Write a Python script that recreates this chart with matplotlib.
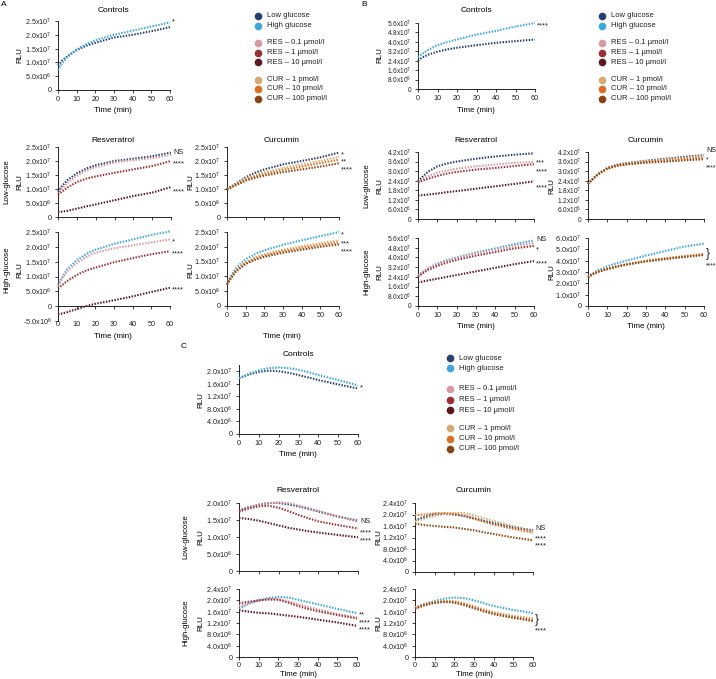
import matplotlib
matplotlib.use('Agg')
import matplotlib.pyplot as plt
from matplotlib.ticker import FixedLocator, FuncFormatter
import math

plt.rcParams['font.family'] = ['Liberation Sans', 'DejaVu Sans']
plt.rcParams['mathtext.fontset'] = 'custom'
plt.rcParams['mathtext.rm'] = 'Liberation Sans'
plt.rcParams['mathtext.it'] = 'Liberation Sans'

# ---------------- data (RLU in units of 1e7) ----------------
t_grow = [0, 2, 5, 10, 15, 20, 30, 40, 50, 60]
t_hump = [0, 5, 10, 15, 20, 25, 30, 35, 40, 50, 60]

# Panel A
A_ctrl_low = [0.88, 1.05, 1.22, 1.45, 1.60, 1.71, 1.90, 2.00, 2.13, 2.28]
A_ctrl_high = [0.72, 0.95, 1.20, 1.47, 1.66, 1.80, 2.00, 2.15, 2.30, 2.45]

A_res_low_ctrl = [0.90, 1.10, 1.32, 1.56, 1.73, 1.85, 2.00, 2.08, 2.17, 2.30]
A_res_low_01 = [0.82, 1.00, 1.22, 1.47, 1.65, 1.78, 1.95, 2.03, 2.10, 2.22]
A_res_low_1 = [0.80, 0.90, 1.05, 1.25, 1.37, 1.45, 1.58, 1.70, 1.82, 2.00]
A_res_low_10 = [0.17, 0.19, 0.22, 0.30, 0.38, 0.45, 0.60, 0.75, 0.87, 1.07]

A_res_high_ctrl = [0.70, 0.95, 1.25, 1.55, 1.75, 1.90, 2.10, 2.25, 2.40, 2.52]
A_res_high_01 = [0.68, 0.90, 1.18, 1.45, 1.65, 1.80, 1.95, 2.05, 2.15, 2.25]
A_res_high_1 = [0.60, 0.70, 0.85, 1.05, 1.20, 1.30, 1.48, 1.62, 1.75, 1.85]
A_res_high_10 = [-0.28, -0.25, -0.20, -0.10, 0.00, 0.08, 0.20, 0.33, 0.48, 0.62]

A_cur_low_ctrl = [1.00, 1.08, 1.20, 1.42, 1.58, 1.70, 1.88, 2.00, 2.13, 2.30]
A_cur_low_1 = [1.00, 1.07, 1.18, 1.38, 1.50, 1.60, 1.75, 1.88, 2.00, 2.15]
A_cur_low_10 = [1.00, 1.06, 1.16, 1.33, 1.45, 1.53, 1.68, 1.80, 1.92, 2.05]
A_cur_low_100 = [1.00, 1.05, 1.14, 1.30, 1.40, 1.48, 1.60, 1.70, 1.80, 1.92]

A_cur_high_ctrl = [0.75, 1.00, 1.30, 1.58, 1.75, 1.88, 2.07, 2.22, 2.36, 2.50]
A_cur_high_1 = [0.72, 0.95, 1.22, 1.48, 1.64, 1.75, 1.90, 2.02, 2.12, 2.22]
A_cur_high_10 = [0.72, 0.94, 1.20, 1.45, 1.60, 1.70, 1.85, 1.96, 2.06, 2.15]
A_cur_high_100 = [0.72, 0.93, 1.18, 1.42, 1.56, 1.66, 1.80, 1.90, 2.00, 2.08]

# Panel B
B_ctrl_low = [2.40, 2.65, 2.90, 3.17, 3.36, 3.50, 3.72, 3.92, 4.06, 4.20]
B_ctrl_high = [2.69, 2.95, 3.30, 3.72, 3.98, 4.20, 4.62, 4.93, 5.30, 5.60]

B_res_low_ctrl = [2.36, 2.60, 2.95, 3.30, 3.48, 3.60, 3.78, 3.92, 4.03, 4.12]
B_res_low_01 = [2.30, 2.45, 2.68, 2.90, 3.05, 3.15, 3.30, 3.42, 3.52, 3.58]
B_res_low_1 = [2.30, 2.38, 2.52, 2.70, 2.85, 2.95, 3.10, 3.20, 3.32, 3.44]
B_res_low_10 = [1.46, 1.49, 1.53, 1.60, 1.68, 1.75, 1.90, 2.05, 2.20, 2.36]

B_cur_low_ctrl = [2.20, 2.45, 2.80, 3.20, 3.40, 3.50, 3.65, 3.78, 3.90, 4.00]
B_cur_low_1 = [2.20, 2.45, 2.80, 3.20, 3.38, 3.48, 3.62, 3.74, 3.85, 3.95]
B_cur_low_10 = [2.20, 2.45, 2.80, 3.18, 3.36, 3.45, 3.58, 3.68, 3.77, 3.85]
B_cur_low_100 = [2.20, 2.45, 2.78, 3.15, 3.33, 3.42, 3.53, 3.60, 3.68, 3.75]

B_res_high_ctrl = [2.50, 2.75, 3.10, 3.50, 3.78, 4.00, 4.40, 4.75, 5.10, 5.40]
B_res_high_01 = [2.50, 2.75, 3.08, 3.45, 3.72, 3.95, 4.35, 4.65, 4.95, 5.20]
B_res_high_1 = [2.40, 2.65, 2.95, 3.30, 3.58, 3.80, 4.15, 4.45, 4.75, 4.95]
B_res_high_10 = [1.95, 2.00, 2.10, 2.25, 2.40, 2.55, 2.85, 3.15, 3.45, 3.70]

B_cur_high_ctrl = [2.60, 2.85, 3.15, 3.50, 3.78, 4.00, 4.45, 4.85, 5.25, 5.50]
B_cur_high_1 = [2.55, 2.80, 3.05, 3.30, 3.52, 3.70, 4.00, 4.22, 4.42, 4.60]
B_cur_high_10 = [2.55, 2.78, 3.03, 3.28, 3.50, 3.68, 3.97, 4.18, 4.38, 4.55]
B_cur_high_100 = [2.50, 2.75, 3.00, 3.25, 3.47, 3.65, 3.93, 4.14, 4.33, 4.50]

# Panel C
C_ctrl_low = [1.78, 1.90, 1.98, 2.02, 2.00, 1.95, 1.88, 1.80, 1.72, 1.58, 1.45]
C_ctrl_high = [1.78, 1.92, 2.03, 2.10, 2.12, 2.10, 2.05, 1.97, 1.88, 1.72, 1.55]

C_res_low_ctrl = [1.78, 1.88, 1.95, 2.00, 2.00, 1.96, 1.90, 1.83, 1.75, 1.60, 1.48]
C_res_low_01 = [1.75, 1.86, 1.95, 2.00, 2.02, 2.00, 1.93, 1.85, 1.77, 1.60, 1.45]
C_res_low_1 = [1.75, 1.84, 1.90, 1.92, 1.86, 1.76, 1.65, 1.55, 1.46, 1.35, 1.25]
C_res_low_10 = [1.56, 1.53, 1.48, 1.41, 1.34, 1.27, 1.22, 1.17, 1.13, 1.06, 0.99]

C_res_high_ctrl = [1.70, 1.88, 2.00, 2.08, 2.12, 2.10, 2.02, 1.94, 1.86, 1.70, 1.55]
C_res_high_01 = [1.80, 1.90, 1.98, 2.04, 2.05, 1.97, 1.87, 1.77, 1.68, 1.52, 1.40]
C_res_high_1 = [1.90, 1.95, 2.00, 2.03, 2.02, 1.92, 1.80, 1.70, 1.62, 1.48, 1.36]
C_res_high_10 = [1.65, 1.60, 1.56, 1.54, 1.50, 1.46, 1.42, 1.37, 1.32, 1.22, 1.10]

C_cur_low_ctrl = [1.80, 1.92, 2.00, 2.02, 2.00, 1.95, 1.87, 1.78, 1.70, 1.55, 1.45]
C_cur_low_1 = [1.75, 1.86, 1.95, 2.02, 2.05, 2.05, 1.97, 1.87, 1.77, 1.60, 1.42]
C_cur_low_10 = [1.98, 2.00, 2.04, 2.05, 2.02, 1.95, 1.85, 1.75, 1.65, 1.50, 1.37]
C_cur_low_100 = [1.68, 1.63, 1.60, 1.57, 1.55, 1.50, 1.45, 1.38, 1.32, 1.20, 1.10]

C_cur_high_ctrl = [1.75, 1.88, 1.98, 2.06, 2.10, 2.08, 2.00, 1.90, 1.80, 1.66, 1.55]
C_cur_high_1 = [1.75, 1.87, 1.95, 1.98, 1.97, 1.90, 1.80, 1.68, 1.58, 1.45, 1.36]
C_cur_high_10 = [1.72, 1.85, 1.93, 1.96, 1.94, 1.86, 1.75, 1.64, 1.55, 1.41, 1.31]
C_cur_high_100 = [1.70, 1.83, 1.91, 1.94, 1.92, 1.83, 1.72, 1.61, 1.51, 1.38, 1.27]

legend_labels = ['Low glucose', 'High glucose', 'RES \u2013 0.1 \u00b5mol/l', 'RES \u2013 1 \u00b5mol/l',
                 'RES \u2013 10 \u00b5mol/l', 'CUR \u2013 1 pmol/l', 'CUR \u2013 10 pmol/l', 'CUR \u2013 100 pmol/l']

# ---------------- style ----------------
C_LOW = '#263f6e'
C_HIGH = '#3aa7dc'
C_RES01 = '#d49a9f'
C_RES1 = '#9a3035'
C_RES10 = '#5a1820'
C_CUR1 = '#d4aa72'
C_CUR10 = '#dd6d20'
C_CUR100 = '#8b4513'
legend_colors = [C_LOW, C_HIGH, C_RES01, C_RES1, C_RES10, C_CUR1, C_CUR10, C_CUR100]

W, H = 716, 679
fig = plt.figure(figsize=(W / 100, H / 100), dpi=100)
FS = 5.2


def fmt(v, pos=None):
    if abs(v) < 1e-3:
        return '0'
    val = v * 1e7
    e = int(math.floor(math.log10(abs(val)) + 1e-9))
    m = val / 10 ** e
    return '%.1fx10$^{%d}$' % (m, e)


def add_ax(x0, y0, x1, y1, ylim, yticks, xlabels=True, spine0=False, xpad=2, yfs=FS):
    ax = fig.add_axes([x0 / W, 1 - y1 / H, (x1 - x0) / W, (y1 - y0) / H])
    ax.set_xlim(0, 60)
    ax.set_ylim(*ylim)
    for s in ['top', 'right']:
        ax.spines[s].set_visible(False)
    for s in ['left', 'bottom']:
        ax.spines[s].set_linewidth(0.6)
    ax.xaxis.set_major_locator(FixedLocator([0, 10, 20, 30, 40, 50, 60]))
    ax.yaxis.set_major_locator(FixedLocator(yticks))
    ax.yaxis.set_major_formatter(FuncFormatter(fmt))
    ax.tick_params(length=2.5, width=0.6, labelsize=FS, pad=2, color='#222222', labelcolor='#222222')
    ax.tick_params(axis='y', labelsize=yfs)
    ax.tick_params(axis='x', pad=xpad)
    if not xlabels:
        ax.tick_params(axis='x', labelbottom=False)
    if spine0:
        ax.spines['bottom'].set_position(('data', 0))
        ax.tick_params(axis='x', pad=8.5)
    ax.patch.set_alpha(0)
    return ax


def curves(ax, t, series, colors):
    for ys, c in zip(series, colors):
        ax.plot(t, ys, color=c, lw=1.5, linestyle=(0, (0.7, 0.7)), clip_on=False, zorder=3)


def notes(ax, items, fs=5.3):
    for s, y in items:
        dy = -1.8 if s.startswith('*') else 0
        ax.annotate(s, xy=(60, y), xytext=(1.5, dy), textcoords='offset points',
                    fontsize=fs, ha='left', va='center', color='#222222', annotation_clip=False)


def ylab(x, y, s='RLU'):
    fig.text(x / W, 1 - y / H, s, rotation=90, ha='center', va='center', fontsize=5.8)


def txt(x, y, s, fs=6, **kw):
    fig.text(x / W, 1 - y / H, s, ha='center', va='center', fontsize=fs, **kw)


RES_COLS = [C_RES01, C_RES1, C_RES10]
CUR_COLS = [C_CUR1, C_CUR10, C_CUR100]
tA = [0, 0.5, 1.0, 1.5, 2.0, 2.5]
YS = 4.8  # smaller y labels for densely ticked panels

# ================= Panel A =================
txt(4, 5, 'A', fs=6)
ax = add_ax(58, 21, 170, 90, (0, 2.5), tA)
curves(ax, t_grow, [A_ctrl_low, A_ctrl_high], [C_LOW, C_HIGH])
notes(ax, [('*', 2.55)])
txt(113, 10, 'Controls')
ylab(20, 55)
txt(113, 110, 'Time (min)', fs=5.8)

ax = add_ax(58, 147, 171, 217, (0, 2.5), tA, xlabels=False)
curves(ax, t_grow, [A_res_low_ctrl, A_res_low_01, A_res_low_1, A_res_low_10],
       [C_LOW] + RES_COLS)
notes(ax, [('NS', 2.3), ('****', 1.97), ('****', 1.0)])
txt(113, 140, 'Resveratrol')
ylab(20, 182)
ylab(7, 182, 'Low-glucose')

ax = add_ax(58, 232, 170, 321, (-0.5, 2.5), [-0.5, 0, 0.5, 1.0, 1.5, 2.0, 2.5], spine0=True)
curves(ax, t_grow, [A_res_high_ctrl, A_res_high_01, A_res_high_1, A_res_high_10],
       [C_HIGH] + RES_COLS)
notes(ax, [('*', 2.25), ('****', 1.85), ('****', 0.62)])
ylab(20, 270)
ylab(7, 270, 'High-glucose')
txt(113, 336, 'Time (min)', fs=5.8)

ax = add_ax(227, 147, 339, 217, (0, 2.5), tA, xlabels=False)
curves(ax, t_grow, [A_cur_low_ctrl, A_cur_low_1, A_cur_low_10, A_cur_low_100],
       [C_LOW] + CUR_COLS)
notes(ax, [('*', 2.32), ('**', 2.04), ('****', 1.76)])
txt(282, 140, 'Curcumin')
ylab(191, 182)

ax = add_ax(227, 232, 339, 306, (0, 2.5), tA)
curves(ax, t_grow, [A_cur_high_ctrl, A_cur_high_1, A_cur_high_10, A_cur_high_100],
       [C_HIGH] + CUR_COLS)
notes(ax, [('*', 2.47), ('***', 2.19), ('****', 1.91)])
ylab(191, 270)
txt(282, 336, 'Time (min)', fs=5.8)

# ================= Panel B =================
txt(364, 5, 'B', fs=6)
tB1 = [0, 0.8, 1.6, 2.4, 3.2, 4.0, 4.8, 5.6]
ax = add_ax(418, 23, 535, 89, (0, 5.6), tB1, yfs=YS)
curves(ax, t_grow, [B_ctrl_low, B_ctrl_high], [C_LOW, C_HIGH])
notes(ax, [('****', 5.6)])
txt(476, 10, 'Controls')
ylab(380, 55)
txt(476, 110, 'Time (min)', fs=5.8)

tB2 = [0, 0.6, 1.2, 1.8, 2.4, 3.0, 3.6, 4.2]
ax = add_ax(418, 152, 534, 219, (0, 4.2), tB2, xlabels=False, yfs=YS)
curves(ax, t_grow, [B_res_low_ctrl, B_res_low_01, B_res_low_1, B_res_low_10],
       [C_LOW] + RES_COLS)
notes(ax, [('***', 3.68), ('****', 3.1), ('****', 2.1)])
txt(476, 140, 'Resveratrol')
ylab(380, 186)
ylab(367, 186, 'Low-glucose')

ax = add_ax(588, 152, 704, 219, (0, 4.2), tB2, xlabels=False, yfs=YS)
curves(ax, t_grow, [B_cur_low_ctrl, B_cur_low_1, B_cur_low_10, B_cur_low_100],
       [C_LOW] + CUR_COLS)
notes(ax, [('NS', 4.3), ('*', 3.88), ('****', 3.38)], fs=5.0)
txt(646, 140, 'Curcumin')
ylab(552, 186)

ax = add_ax(418, 238, 534, 306, (0, 5.6), tB1, yfs=YS)
curves(ax, t_grow, [B_res_high_ctrl, B_res_high_01, B_res_high_1, B_res_high_10],
       [C_HIGH] + RES_COLS)
notes(ax, [('NS', 5.5), ('*', 4.85), ('****', 3.7)])
ylab(380, 272)
ylab(367, 272, 'High-glucose')
txt(476, 326, 'Time (min)', fs=5.8)

ax = add_ax(588, 238, 704, 306, (0, 6.0), [0, 1, 2, 3, 4, 5, 6])
curves(ax, t_grow, [B_cur_high_ctrl, B_cur_high_1, B_cur_high_10, B_cur_high_100],
       [C_HIGH] + CUR_COLS)
notes(ax, [('}', 4.55)], fs=8.5)
notes(ax, [('****', 3.75)], fs=5.0)
ylab(552, 272)
txt(646, 326, 'Time (min)', fs=5.8)

# ================= Panel C =================
txt(184, 346, 'C', fs=6)
tC1 = [0, 0.4, 0.8, 1.2, 1.6, 2.0]
ax = add_ax(239, 365, 358, 434, (0, 2.2), tC1)
curves(ax, t_hump, [C_ctrl_low, C_ctrl_high], [C_LOW, C_HIGH])
notes(ax, [('*', 1.55)])
txt(298, 355, 'Controls')
ylab(201, 400)
txt(298, 455, 'Time (min)', fs=5.8)

ax = add_ax(239, 503, 358, 571, (0, 2.0), [0, 0.5, 1.0, 1.5, 2.0], xlabels=False)
curves(ax, t_hump, [C_res_low_ctrl, C_res_low_01, C_res_low_1, C_res_low_10],
       [C_LOW] + RES_COLS)
notes(ax, [('NS', 1.47), ('****', 1.2), ('****', 0.95)])
txt(298, 491, 'Resveratrol')
ylab(201, 537)
ylab(186, 537, 'Low-glucose')

tC2 = [0, 0.4, 0.8, 1.2, 1.6, 2.0, 2.4]
ax = add_ax(239, 589, 357, 657, (0, 2.4), tC2, xpad=1)
curves(ax, t_hump, [C_res_high_ctrl, C_res_high_01, C_res_high_1, C_res_high_10],
       [C_HIGH] + RES_COLS)
notes(ax, [('**', 1.57), ('****', 1.3), ('****', 1.03)])
ylab(201, 623)
ylab(186, 623, 'High-glucose')
txt(298, 674.5, 'Time (min)', fs=5.6)

ax = add_ax(415, 503, 533, 572, (0, 2.4), tC2, xlabels=False)
curves(ax, t_hump, [C_cur_low_ctrl, C_cur_low_1, C_cur_low_10, C_cur_low_100],
       [C_LOW] + CUR_COLS)
notes(ax, [('NS', 1.5), ('****', 1.24), ('****', 0.98)])
txt(474, 491, 'Curcumin')
ylab(379, 537)

ax = add_ax(415, 589, 533, 657, (0, 2.4), tC2, xpad=1)
curves(ax, t_hump, [C_cur_high_ctrl, C_cur_high_1, C_cur_high_10, C_cur_high_100],
       [C_HIGH] + CUR_COLS)
notes(ax, [('}', 1.32)], fs=8.5)
notes(ax, [('****', 1.02)])
ylab(379, 623)
txt(474, 674.5, 'Time (min)', fs=5.6)

# ================= Legends =================
ov = fig.add_axes([0, 0, 1, 1])
ov.set_xlim(0, W)
ov.set_ylim(H, 0)
ov.axis('off')


def legend(x, ys):
    for lab, col, y in zip(legend_labels, legend_colors, ys):
        ov.plot([x], [y], 'o', color=col, markersize=5.5, markeredgewidth=0)
        ov.text(x + 9, y, lab, fontsize=5.5, ha='left', va='center', color='#222222')


legend(258, [15.5, 25.5, 43, 52.5, 62, 79.5, 89, 98.5])
legend(602, [15.5, 25.5, 43, 52.5, 62, 79.5, 89, 98.5])
legend(450, [358, 368, 389, 399.5, 410, 428, 438.5, 449])

fig.savefig('out.png', dpi=100)
